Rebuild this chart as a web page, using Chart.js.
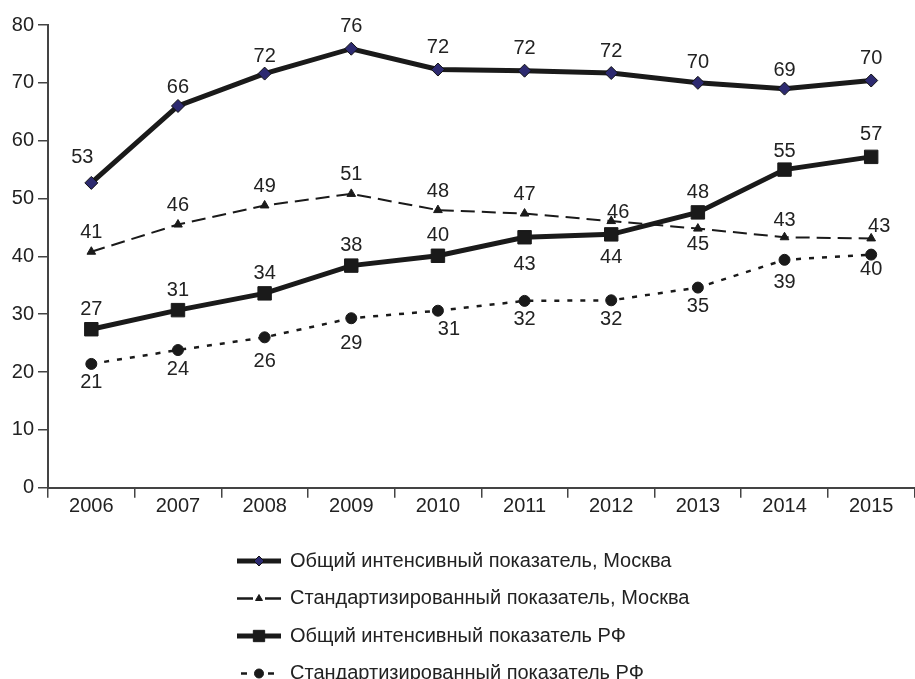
<!DOCTYPE html>
<html>
<head>
<meta charset="utf-8">
<script src="https://cdn.jsdelivr.net/npm/chart.js@4.4.0/dist/chart.umd.min.js"></script>
<style>
html,body{margin:0;padding:0;background:#fff;overflow:hidden;}
#wrap{width:925px;height:679px;}
</style>
</head>
<body>
<div id="wrap"><canvas id="myChart" width="925" height="679"></canvas></div>
<script>
const years=['2006','2007','2008','2009','2010','2011','2012','2013','2014','2015'];
const moscowTotal=[52.7,66.0,71.6,75.9,72.3,72.1,71.7,70.0,69.0,70.4];
const moscowStd=[40.8,45.5,48.8,50.8,48.0,47.4,46.1,44.8,43.3,43.1];
const rfTotal=[27.4,30.7,33.6,38.4,40.1,43.3,43.8,47.6,55.0,57.2];
const rfStd=[21.4,23.8,26.0,29.3,30.6,32.3,32.4,34.6,39.4,40.3];
const seriesNames=[
  'Общий интенсивный показатель, Москва',
  'Стандартизированный показатель, Москва',
  'Общий интенсивный показатель РФ',
  'Стандартизированный показатель РФ'
];
const yMin=0, yMax=80, yStep=10;

const FONT='"Liberation Sans", Arial, sans-serif';
const INK='#1a1a1a';

// where each value label sits relative to its point: default offset per series, plus a few exceptions
const labelPlace=[
  {dy:-22, at:{0:[-9,-25],1:[0,-18],2:[0,-17],4:[0,-22],7:[0,-20],8:[0,-18]}},
  {dy:-19, at:{6:[7,-9],7:[0,16],8:[0,-17],9:[8,-12]}},
  {dy:-20, at:{5:[0,27],6:[0,23],8:[0,-18],9:[0,-22]}},
  {dy:19, at:{2:[0,24],3:[0,25],4:[11,19],8:[0,23],9:[0,15]}}
];

const valueLabels={
  id:'valueLabels',
  afterDatasetsDraw(chart){
    const ctx=chart.ctx;
    ctx.save();
    ctx.font='20px '+FONT;
    ctx.fillStyle='#222';
    ctx.textAlign='center';
    ctx.textBaseline='middle';
    chart.data.datasets.forEach((ds,i)=>{
      const meta=chart.getDatasetMeta(i);
      const place=labelPlace[i];
      meta.data.forEach((pt,j)=>{
        const off=place.at[j]||[0,place.dy];
        ctx.fillText(String(Math.round(ds.data[j])),pt.x+off[0],pt.y+off[1]);
      });
    });
    ctx.restore();
  }
};

// legend stacked one entry per row under the axis
const legendRows={
  id:'legendRows',
  afterDraw(chart){
    const ctx=chart.ctx;
    const x0=237, x1=281, mx=259, tx=290;
    chart.data.datasets.forEach((ds,i)=>{
      const y=561+i*37.5;
      ctx.save();
      ctx.strokeStyle=INK;
      ctx.lineWidth=ds.legendWidth;
      if(ds.legendDash) ctx.setLineDash(ds.legendDash);
      ctx.beginPath();ctx.moveTo(ds.legendDash?241:x0,y);ctx.lineTo(x1,y);ctx.stroke();
      ctx.restore();
      if(ds.legendGap){
        ctx.save();
        ctx.fillStyle='#fff';
        ctx.fillRect(mx-ds.legendGap,y-3,ds.legendGap*2,6);
        ctx.restore();
      }
      ctx.save();
      ctx.fillStyle=ds.pointBackgroundColor;
      ctx.strokeStyle=ds.pointBorderColor;
      ctx.lineWidth=1;
      Chart.helpers.drawPoint(ctx,{pointStyle:ds.pointStyle,radius:ds.legendRadius,borderWidth:1},mx,y);
      ctx.restore();
      ctx.save();
      ctx.font='20px '+FONT;
      ctx.fillStyle='#222';
      ctx.textBaseline='middle';
      ctx.fillText(seriesNames[i],tx,y);
      ctx.restore();
    });
  }
};

const ctx=document.getElementById('myChart');
new Chart(ctx,{
  type:'line',
  data:{
    labels:years,
    datasets:[{
      label:seriesNames[0],
      data:moscowTotal,
      borderColor:INK,
      borderWidth:5,
      pointStyle:'rectRot',
      pointRadius:6.5,
      pointBackgroundColor:'#2d2a70',
      pointBorderColor:'#111',
      pointBorderWidth:1,
      legendWidth:5,
      legendRadius:5
    },{
      label:seriesNames[1],
      data:moscowStd,
      borderColor:INK,
      borderWidth:2,
      borderDash:[14,7],
      pointStyle:'triangle',
      pointRadius:5,
      pointBackgroundColor:INK,
      pointBorderColor:INK,
      pointBorderWidth:1,
      legendWidth:2.5,
      legendGap:6,
      legendRadius:4
    },{
      label:seriesNames[2],
      data:rfTotal,
      borderColor:INK,
      borderWidth:5,
      pointStyle:'rect',
      pointRadius:9.5,
      pointBackgroundColor:INK,
      pointBorderColor:INK,
      pointBorderWidth:1,
      legendWidth:5,
      legendRadius:8
    },{
      label:seriesNames[3],
      data:rfStd,
      borderColor:INK,
      borderWidth:2.5,
      borderDash:[5,8],
      pointStyle:'circle',
      pointRadius:5.5,
      pointBackgroundColor:INK,
      pointBorderColor:INK,
      pointBorderWidth:1,
      legendWidth:2.5,
      legendDash:[6,21,6,10],
      legendRadius:4.5
    }]
  },
  options:{
    responsive:false,
    animation:false,
    devicePixelRatio:1,
    layout:{padding:{top:25,right:3,bottom:161.3,left:0}},
    elements:{line:{tension:0,fill:false}},
    plugins:{legend:{display:false},tooltip:{enabled:false}},
    scales:{
      x:{
        offset:true,
        grid:{offset:true,drawOnChartArea:false,drawTicks:true,tickLength:10,color:'#444',lineWidth:1.5},
        border:{color:'#444',width:2},
        ticks:{color:'#222',font:{size:20,family:FONT},padding:-3,maxRotation:0},
        afterFit(s){s.height=30;}
      },
      y:{
        min:yMin,max:yMax,
        grid:{drawOnChartArea:false,drawTicks:true,tickLength:10,color:'#444',lineWidth:1.5},
        border:{color:'#444',width:2},
        ticks:{stepSize:yStep,color:'#222',font:{size:20,family:FONT},padding:4},
        afterFit(s){s.width=48;}
      }
    }
  },
  plugins:[valueLabels,legendRows]
});
</script>
</body>
</html>
